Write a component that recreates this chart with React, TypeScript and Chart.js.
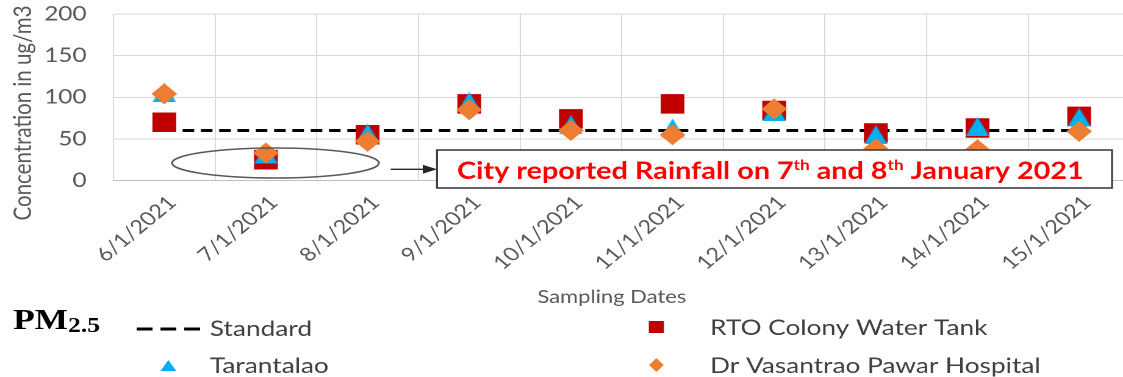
import React, { useEffect, useRef } from "react";
import { Chart, registerables } from "chart.js";

Chart.register(...registerables);

// ---------------- data ----------------
const samplingDates = [
  "6/1/2021", "7/1/2021", "8/1/2021", "9/1/2021", "10/1/2021",
  "11/1/2021", "12/1/2021", "13/1/2021", "14/1/2021", "15/1/2021",
];
const standardValues = [60, 60, 60, 60, 60, 60, 60, 60, 60, 60];
const rtoColonyValues = [70, 25, 55, 92, 74, 92, 84, 57, 63, 77];
const tarantalaoValues = [106, 32, 57, 95, 67, 63, 83, 55, 65, 76];
const drVasantraoValues = [104, 33, 47, 85, 60, 55, 86, 38, 37, 59];
const yTickValues = [0, 50, 100, 150, 200];

const standardName = "Standard";
const rtoName = "RTO Colony Water Tank";
const tarantalaoName = "Tarantalao";
const drName = "Dr Vasantrao Pawar Hospital";
const yAxisTitle = "Concentration in ug/m3";
const xAxisTitle = "Sampling Dates";
const noteParts = [
  { text: "City reported Rainfall on 7", sup: false },
  { text: "th", sup: true },
  { text: " and 8", sup: false },
  { text: "th", sup: true },
  { text: " January 2021", sup: false },
];
const panelMain = "PM";
const panelSub = "2.5";

// ---------------- styling / layout (chart coordinates) ----------------
const STRETCH = 1.22; // the reference is horizontally stretched
const W = 940;
const H = 377;
const PLOT_LEFT = 93;
const PLOT_RIGHT = 933.6;
const PLOT_TOP = 14;
const PLOT_BOTTOM = 180.5;
const X_AXIS_BOTTOM = 309;

const RED = "#C00000";
const BLUE = "#00B0F0";
const ORANGE = "#ED7D31";
const AXIS_TEXT = "#595959";
const LEGEND_TEXT = "#404040";
const FONT = "Lato";

function triangleCanvas(w: number, h: number, color: string) {
  const c = document.createElement("canvas");
  c.width = w;
  c.height = h;
  const g = c.getContext("2d")!;
  g.fillStyle = color;
  g.beginPath();
  g.moveTo(w / 2, 0);
  g.lineTo(w, h);
  g.lineTo(0, h);
  g.closePath();
  g.fill();
  return c;
}

const overlayPlugin = {
  id: "overlay",
  afterDraw(chart: any) {
    const ctx: CanvasRenderingContext2D = chart.ctx;
    ctx.save();

    // y axis title
    ctx.save();
    ctx.translate(18.9, 113);
    ctx.rotate(-Math.PI / 2);
    ctx.font = `20.5px ${FONT}`;
    ctx.fillStyle = AXIS_TEXT;
    ctx.textAlign = "center";
    ctx.textBaseline = "middle";
    ctx.fillText(yAxisTitle, 0, 0);
    ctx.restore();

    // x axis title
    ctx.font = `18px ${FONT}`;
    ctx.fillStyle = AXIS_TEXT;
    ctx.textAlign = "center";
    ctx.textBaseline = "middle";
    ctx.fillText(xAxisTitle, 501.5, 297);

    // ellipse
    ctx.beginPath();
    ctx.ellipse(225.8, 163, 84.8, 15, 0, 0, Math.PI * 2);
    ctx.strokeStyle = "#595959";
    ctx.lineWidth = 1.6;
    ctx.stroke();

    // arrow
    ctx.beginPath();
    ctx.moveTo(320.3, 169.3);
    ctx.lineTo(348, 169.3);
    ctx.strokeStyle = "#262626";
    ctx.lineWidth = 1.4;
    ctx.stroke();
    ctx.beginPath();
    ctx.moveTo(358.2, 169.3);
    ctx.lineTo(346.5, 164.8);
    ctx.lineTo(346.5, 173.8);
    ctx.closePath();
    ctx.fillStyle = "#262626";
    ctx.fill();

    // note box
    ctx.fillStyle = "#ffffff";
    ctx.fillRect(358.2, 150, 553.3, 38);
    ctx.strokeStyle = "#404040";
    ctx.lineWidth = 1.6;
    ctx.strokeRect(358.2, 150, 553.3, 38);

    // note text
    let x = 374.6;
    const base = 179;
    ctx.fillStyle = "#FF0000";
    ctx.textAlign = "left";
    ctx.textBaseline = "alphabetic";
    for (const p of noteParts) {
      ctx.font = p.sup ? `bold 14px ${FONT}` : `bold 23.6px ${FONT}`;
      ctx.fillText(p.text, x, p.sup ? base - 9 : base);
      x += ctx.measureText(p.text).width;
    }

    // panel label PM2.5
    ctx.fillStyle = "#000000";
    ctx.font = "bold 29px 'Liberation Serif'";
    ctx.fillText(panelMain, 10.7, 329);
    const pmW = ctx.measureText(panelMain).width;
    ctx.font = "bold 21px 'Liberation Serif'";
    ctx.fillText(panelSub, 10.7 + pmW, 332);

    // legend
    ctx.textBaseline = "middle";
    ctx.font = `21.5px ${FONT}`;
    ctx.fillStyle = LEGEND_TEXT;

    // Standard
    ctx.save();
    ctx.beginPath();
    ctx.setLineDash([13, 6.5]);
    ctx.moveTo(112, 329);
    ctx.lineTo(164, 329);
    ctx.strokeStyle = "#000000";
    ctx.lineWidth = 3;
    ctx.stroke();
    ctx.restore();
    ctx.fillText(standardName, 172, 329);

    // RTO
    ctx.fillStyle = RED;
    ctx.fillRect(538 - 6.2, 327 - 6, 12.4, 12);
    ctx.fillStyle = LEGEND_TEXT;
    ctx.fillText(rtoName, 582, 328);

    // Tarantalao
    ctx.fillStyle = BLUE;
    ctx.beginPath();
    ctx.moveTo(138, 360);
    ctx.lineTo(144.5, 371);
    ctx.lineTo(131.5, 371);
    ctx.closePath();
    ctx.fill();
    ctx.fillStyle = LEGEND_TEXT;
    ctx.fillText(tarantalaoName, 172, 366);

    // Dr Vasantrao
    ctx.fillStyle = ORANGE;
    ctx.beginPath();
    ctx.moveTo(538, 358);
    ctx.lineTo(544, 365);
    ctx.lineTo(538, 372);
    ctx.lineTo(532, 365);
    ctx.closePath();
    ctx.fill();
    ctx.fillStyle = LEGEND_TEXT;
    ctx.fillText(drName, 582, 366);

    ctx.restore();
  },
};

export default function App() {
  const canvasRef = useRef<HTMLCanvasElement | null>(null);

  useEffect(() => {
    const canvas = canvasRef.current;
    if (!canvas) return;
    const tri = triangleCanvas(19, 19, BLUE);

    const chart = new Chart(canvas, {
      type: "line",
      data: {
        labels: samplingDates,
        datasets: [
          {
            label: drName,
            data: drVasantraoValues,
            showLine: false,
            pointStyle: "rectRot",
            pointRadius: 10.5,
            pointBackgroundColor: ORANGE,
            pointBorderColor: ORANGE,
            pointBorderWidth: 0,
            order: 0,
          },
          {
            label: tarantalaoName,
            data: tarantalaoValues,
            showLine: false,
            pointStyle: tri as any,
            pointRadius: 10,
            pointBackgroundColor: BLUE,
            pointBorderColor: BLUE,
            order: 1,
          },
          {
            label: rtoName,
            data: rtoColonyValues,
            showLine: false,
            pointStyle: "rect",
            pointRadius: 13.8,
            pointBackgroundColor: RED,
            pointBorderColor: RED,
            pointBorderWidth: 0,
            order: 2,
          },
          {
            label: standardName,
            data: standardValues,
            borderColor: "#000000",
            borderWidth: 3,
            borderDash: [9.5, 5.5],
            pointRadius: 0,
            fill: false,
            order: 3,
          },
        ],
      },
      options: {
        responsive: false,
        animation: false,
        devicePixelRatio: 2,
        layout: {
          padding: {
            top: PLOT_TOP,
            left: 0,
            right: W - PLOT_RIGHT,
            bottom: H - X_AXIS_BOTTOM,
          },
        },
        plugins: {
          legend: { display: false },
          tooltip: { enabled: false },
        },
        scales: {
          x: {
            type: "category",
            offset: true,
            grid: { offset: true, color: "#d9d9d9", lineWidth: 1, drawTicks: false },
            border: { display: true, color: "#bfbfbf", width: 1 },
            ticks: {
              autoSkip: false,
              minRotation: 45,
              maxRotation: 45,
              padding: 11,
              labelOffset: 6.5,
              color: AXIS_TEXT,
              font: { family: FONT, size: 19 },
            },
            afterFit: (s: any) => {
              s.height = X_AXIS_BOTTOM - PLOT_BOTTOM;
            },
          },
          y: {
            min: 0,
            max: 200,
            afterBuildTicks: (s: any) => {
              s.ticks = yTickValues.map((v) => ({ value: v }));
            },
            ticks: {
              padding: 0,
              color: AXIS_TEXT,
              font: { family: FONT, size: 20 },
            },
            grid: {
              color: (c: any) => (c.tick && c.tick.value === 0 ? "#bfbfbf" : "#d9d9d9"),
              drawTicks: true,
              tickLength: 22,
              tickColor: "rgba(0,0,0,0)",
              lineWidth: 1,
            },
            border: { display: false },
            afterFit: (s: any) => {
              s.width = PLOT_LEFT;
            },
          },
        },
      },
      plugins: [overlayPlugin],
    } as any);

    return () => chart.destroy();
  }, []);

  return (
    <div
      style={{
        position: "fixed",
        left: 0,
        top: 0,
        width: 1123,
        height: 377,
        overflow: "hidden",
        background: "#ffffff",
      }}
    >
      <div
        style={{
          width: W,
          height: H,
          transform: `scaleX(${STRETCH})`,
          transformOrigin: "0 0",
        }}
      >
        <canvas ref={canvasRef} width={W} height={H} style={{ width: W, height: H, display: "block" }} />
      </div>
    </div>
  );
}
